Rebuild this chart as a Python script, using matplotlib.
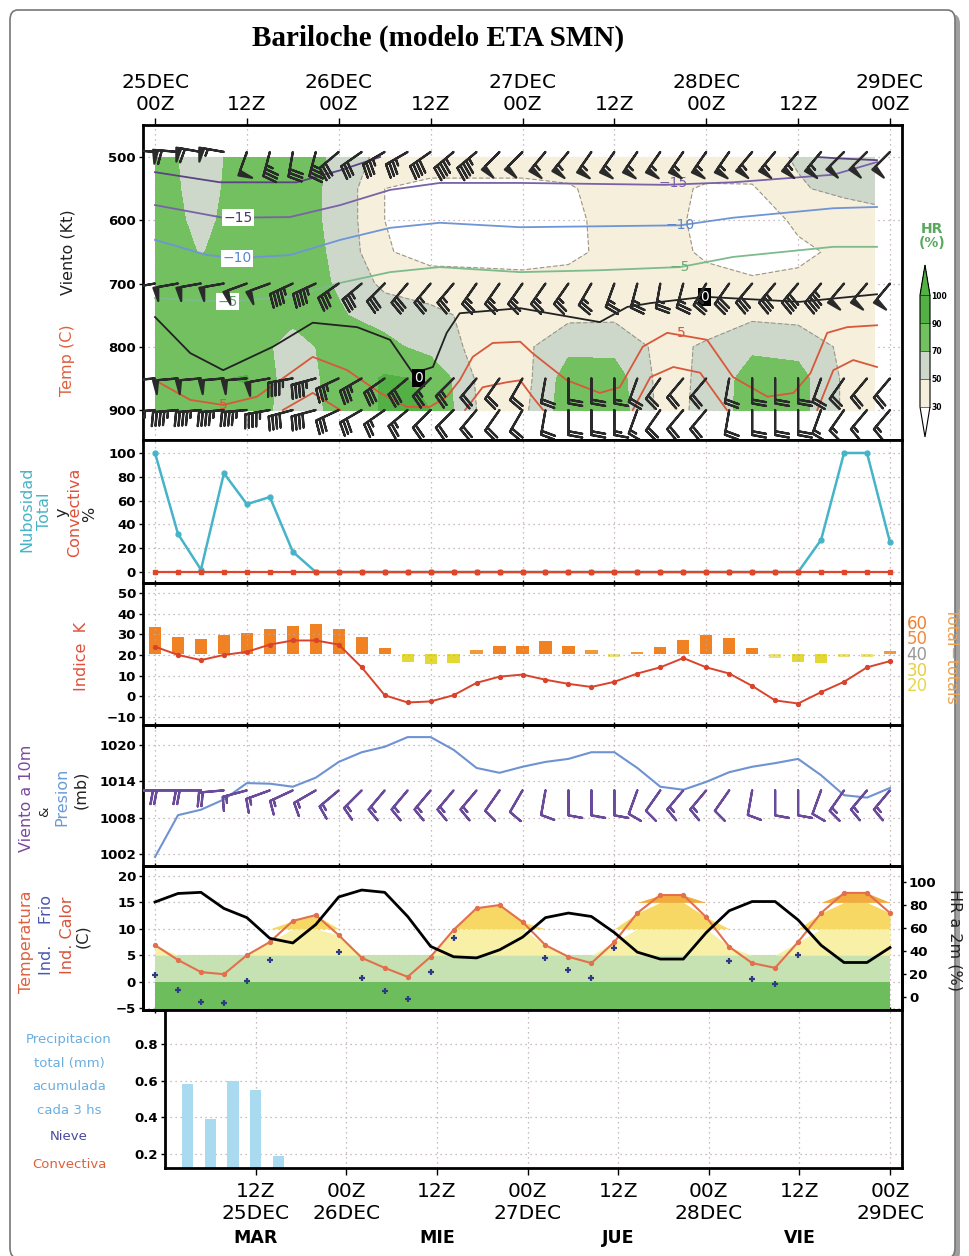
import numpy as np
import matplotlib
import matplotlib.pyplot as plt
from matplotlib.colors import ListedColormap, BoundaryNorm
from matplotlib.patches import FancyBboxPatch

W, H = 970, 1256
plt.rcParams['font.family'] = ['DejaVu Sans']
NARROW = ['Liberation Sans Narrow', 'DejaVu Sans']

# hours from 25DEC 00Z, model output every 3 h
t3 = np.arange(0, 97, 3)

# ---------------- panel 1: upper air (HR shading, isotherms, barbs)
hr_times = [0, 6, 12, 18, 24, 30, 36, 42, 48, 54, 60, 66, 72, 78, 84, 90, 94]
hr_levels = [500, 550, 600, 650, 700, 750, 800, 850, 900]
hr_500 = [80, 60, 80, 80, 66, 42, 40, 40, 40, 40, 42, 42, 40, 42, 52, 60, 62]
hr_550 = [80, 62, 80, 80, 64, 30, 25, 25, 25, 28, 38, 35, 28, 28, 48, 55, 58]
hr_600 = [80, 65, 80, 80, 64, 30, 22, 22, 22, 26, 36, 34, 27, 24, 32, 38, 42]
hr_650 = [80, 69, 80, 80, 66, 32, 22, 22, 22, 26, 35, 35, 28, 24, 28, 32, 36]
hr_700 = [80, 80, 80, 80, 68, 45, 40, 38, 36, 36, 36, 36, 34, 32, 32, 34, 36]
hr_750 = [80, 80, 80, 75, 72, 62, 55, 45, 40, 45, 46, 40, 42, 46, 44, 40, 40]
hr_800 = [80, 80, 80, 62, 78, 76, 62, 45, 45, 65, 64, 45, 52, 66, 63, 46, 45]
hr_850 = [80, 88, 91, 58, 78, 92, 88, 48, 42, 80, 80, 44, 53, 80, 78, 47, 45]
hr_900 = [80, 85, 85, 58, 76, 92, 90, 50, 45, 82, 82, 45, 53, 82, 78, 47, 45]

# isotherms: pressure (hPa) of each temperature line against time
iso_m20_t = [0, 8.5, 18.5, 24.2, 29.4, np.nan, 86.5, 89, 94.3]
iso_m20_p = [524, 540, 540, 521, 500, np.nan, 500, 502, 505]
iso_m15_t = [0, 8.9, 17.6, 24.2, 30.7, 37.2, 47.7, 66.6, 75.5, 88.6, 94.3]
iso_m15_p = [576, 596, 595, 576, 552, 541, 541, 544, 540, 528, 508]
iso_m10_t = [0, 6.8, 10.7, 17.6, 24.2, 30.7, 37.2, 47.7, 68.6, 75.5, 88.6, 94.3]
iso_m10_p = [631, 655, 660, 655, 631, 612, 604, 611, 608, 596, 581, 579]
iso_m5_t = [0, 9.1, 17.6, 24.2, 30.7, 37.2, 47.7, 58.1, 68.6, 75.5, 88.6, 94.3]
iso_m5_p = [723, 729, 721, 699, 682, 674, 682, 679, 674, 658, 642, 642]
iso_0_t = [0, 4.6, 8.9, 15.4, 20.6, 26.4, 30.7, 33.7, 36.3, 38.1, 39.8, 47.7,
           58.1, 61.7, 64.7, 71.8, 84.2, 94.3]
iso_0_p = [753, 810, 837, 800, 762, 769, 789, 842, 832, 778, 747, 739,
           761, 737, 731, 721, 729, 717]
iso_5_t = [0, 4.6, 8.9, 13.3, 17.6, 20.6, 25.1, 29.4, 32.9, 35.9, 38.1, 39.8,
           41.5, 44.1, 47.7, 49.3, 53.8, 58.1, 60.7, 63.7, 66.9, 72.1, 75.5,
           80.0, 83.4, 85.6, 87.8, 90.4, 94.3]
iso_5_p = [853, 884, 892, 879, 842, 816, 837, 873, 895, 895, 879, 853,
           816, 794, 792, 810, 853, 873, 864, 800, 778, 789, 848,
           879, 873, 842, 778, 769, 766]
iso_10_t = [16.7, 20.6, 24.2, np.nan, 40.5, 42.8, 46.0, 47.7, 49.3, 50.7, np.nan,
            62.4, 64.7, 67.7, 71.2, 74.7, np.nan, 86.5, 88.6, 91.2, 94.3]
iso_10_p = [900, 873, 900, np.nan, 900, 864, 856, 853, 879, 900, np.nan,
            900, 848, 832, 841, 900, np.nan, 900, 837, 821, 832]

# winds (direction from, deg / speed, kt) every 3 h
barb_levels = [492, 700, 850, 900]
dir500 = [275, 275, 280, 280, 200, 195, 190, 195, 230, 235, 240, 240, 235, 230, 230, 225,
          225, 220, 220, 215, 215, 215, 215, 215, 215, 215, 220, 220, 220, 220, 225, 225, 225]
spd500 = [55, 60, 60, 55, 50, 35, 30, 35, 30, 30, 35, 35, 40, 45, 45, 50,
          50, 55, 55, 55, 55, 55, 55, 55, 55, 55, 55, 55, 55, 55, 50, 50, 50]
dir700 = [260, 260, 260, 260, 250, 250, 245, 245, 235, 230, 225, 220, 220, 220, 215, 215,
          215, 215, 215, 210, 200, 195, 190, 195, 210, 215, 220, 220, 220, 220, 220, 220, 220]
spd700 = [50, 50, 50, 50, 50, 50, 45, 45, 35, 35, 30, 30, 25, 25, 25, 25,
          25, 25, 25, 25, 25, 25, 25, 25, 25, 30, 30, 35, 40, 45, 50, 50, 50]
dir850 = [265, 265, 265, 265, 265, 260, 260, 255, 245, 240, 235, 230, 225, 225, 220, 215,
          210, 190, 180, 180, 180, 200, 215, 220, 220, 190, 180, 180, 180, 200, 215, 220, 220]
spd850 = [50, 50, 50, 50, 50, 50, 45, 45, 35, 35, 30, 30, 25, 25, 20, 20,
          20, 20, 20, 20, 15, 20, 20, 20, 20, 20, 20, 20, 20, 20, 20, 20, 20]
dir900 = [265, 265, 265, 265, 265, 260, 255, 255, 245, 240, 235, 230, 225, 225, 220, 215,
          210, 190, 180, 180, 180, 200, 215, 220, 220, 190, 180, 180, 180, 200, 215, 220, 220]
spd900 = [45, 45, 45, 45, 45, 45, 40, 40, 30, 30, 25, 25, 20, 20, 20, 20,
          20, 20, 20, 20, 15, 15, 20, 20, 20, 20, 20, 20, 20, 15, 15, 15, 15]

# ---------------- panel 2: cloud cover (%)
nub_total = [100, 32, 2, 83, 57, 63, 17, 0, 0, 0, 0, 0, 0, 0, 0, 0, 0,
             0, 0, 0, 0, 0, 0, 0, 0, 0, 0, 0, 0, 27, 100, 100, 25]
nub_conv = [0, 0, 0, 0, 0, 0, 0, 0, 0, 0, 0, 0, 0, 0, 0, 0, 0,
            0, 0, 0, 0, 0, 0, 0, 0, 0, 0, 0, 0, 0, 0, 0, 0]

# ---------------- panel 3: K index and total-totals
k_index = [24, 20, 17.5, 20, 21.5, 25, 27, 27, 25, 14, 0.5, -3, -2.5, 0.5, 6.5, 9.5, 10.5,
           8, 6, 4.5, 7, 11, 14, 18.5, 14, 11, 5, -2, -3.5, 2, 7, 14, 17]
total_totals = [57, 52, 51, 53, 54, 56, 57.5, 58.5, 56, 52, 47, 40, 39, 39.5, 46, 48, 48,
                50, 48, 46, 42.5, 45, 47.5, 50.5, 53, 51.5, 47, 42, 40, 39.5, 42.5, 42.5, 45.5]
tt_base = 44

# ---------------- panel 4: surface pressure and 10 m wind
presion = [1001.5, 1008.4, 1009.3, 1011, 1013.7, 1013.6, 1013.1, 1014.6, 1017.2, 1018.8,
           1019.7, 1021.3, 1021.3, 1019.2, 1016.2, 1015.4, 1016.4, 1017.2, 1017.7, 1018.8,
           1018.8, 1016.2, 1013.1, 1012.6, 1013.9, 1015.5, 1016.4, 1017, 1017.7, 1015,
           1011.7, 1011.3, 1012.9]
dir10 = [270, 270, 270, 265, 255, 250, 245, 240, 230, 225, 220, 220, 220, 220, 220, 215,
         210, 190, 180, 180, 180, 200, 215, 220, 220, 215, 190, 180, 180, 200, 215, 220, 220]
spd10 = [20, 20, 20, 20, 15, 15, 15, 15, 15, 15, 15, 15, 15, 15, 15, 10,
         10, 10, 10, 10, 10, 10, 10, 15, 15, 10, 10, 10, 10, 10, 15, 15, 15]

# ---------------- panel 5: 2 m temperature, wind chill, 2 m RH
temp2m = [6.9, 4.1, 1.8, 1.4, 5.0, 7.5, 11.5, 12.6, 8.8, 4.5, 2.6, 0.9, 4.7, 9.8, 13.9, 14.5,
          11.3, 6.9, 4.7, 3.5, 7.5, 13.0, 16.4, 16.4, 12.2, 6.6, 3.5, 2.6, 7.5, 13.0, 16.8,
          16.8, 13.0]
ind_frio = [1.3, -1.6, -3.9, -4.1, 0.1, 4.1, np.nan, np.nan, 5.6, 0.7, -1.8, -3.3, 1.8, 8.3,
            np.nan, np.nan, np.nan, 4.5, 2.2, 0.7, 6.4, np.nan, np.nan, np.nan, np.nan, 3.9,
            0.5, -0.5, 5.0, np.nan, np.nan, np.nan, np.nan]
hr2m = [82.6, 90, 91, 77, 69, 51, 47, 63, 87, 93, 91, 70, 44, 35, 34, 41, 52, 69, 73, 70,
        56, 39, 33, 33, 56, 75, 83, 83, 67, 45, 30, 30, 43]

# ---------------- panel 6: precipitation (mm / 3 h)
pp_t = [3, 6, 9, 12, 15]
pp_total = [0.58, 0.39, 0.60, 0.55, 0.19]

top_labels = ['25DEC\n00Z', '12Z', '26DEC\n00Z', '12Z', '27DEC\n00Z', '12Z',
              '28DEC\n00Z', '12Z', '29DEC\n00Z']
bot_labels = ['12Z\n25DEC', '00Z\n26DEC', '12Z', '00Z\n27DEC', '12Z',
              '00Z\n28DEC', '12Z', '00Z\n29DEC']
dias = ['MAR', 'MIE', 'JUE', 'VIE']
dias_t = [12, 36, 60, 84]

BARB_LEN = 6.0
BARB_SIZES = dict(height=0.55, width=0.2, spacing=0.15, emptybarb=0.0)


def box(x0, y0, x1, y1):
    return [x0 / W, 1 - y1 / H, (x1 - x0) / W, (y1 - y0) / H]


def ftext(x, y, s, **kw):
    kw.setdefault('ha', 'center')
    kw.setdefault('va', 'center')
    fig.text(x / W, 1 - y / H, s, **kw)


def uv(dirs, spds):
    d = np.deg2rad(np.asarray(dirs, float))
    s = np.asarray(spds, float)
    return -s * np.sin(d), -s * np.cos(d)


def style(ax, yticks, xlim=(-1.57, 97.57)):
    ax.set_xlim(*xlim)
    ax.set_xticks(range(0, 97, 12))
    ax.set_yticks(yticks)
    for s in ax.spines.values():
        s.set_linewidth(2)
    ax.tick_params(axis='y', direction='out', length=3, width=1, labelsize=9.5, pad=2)
    ax.tick_params(axis='x', direction='inout', length=5, width=1, labelbottom=False)
    ax.grid(True, ls=(0, (1, 3)), color='#b9a8a8', lw=0.9)
    ax.set_axisbelow(True)
    plt.setp(ax.get_yticklabels(), fontweight='bold')


fig = plt.figure(figsize=(W / 100, H / 100), dpi=100)
fig.patches.append(FancyBboxPatch((15 / W, 1 - 1262 / H), 945 / W, 1248 / H,
                                  boxstyle='round,pad=0,rounding_size=0.008',
                                  transform=fig.transFigure, fc='#a0a0a0', ec='none', zorder=-3))
fig.patches.append(FancyBboxPatch((10 / W, 1 - 1258 / H), 945 / W, 1248 / H,
                                  boxstyle='round,pad=0,rounding_size=0.008',
                                  transform=fig.transFigure, fc='white', ec='#777777',
                                  lw=1.2, zorder=-2))

ftext(438, 38, 'Bariloche (modelo ETA SMN)', fontsize=21, fontweight='bold',
      family=['Liberation Serif', 'DejaVu Serif'])

# ---------------- panel 1
ax1 = fig.add_axes(box(143, 125, 902, 440))
hr_grid = np.array([hr_500, hr_550, hr_600, hr_650, hr_700, hr_750, hr_800, hr_850, hr_900])
cmap = ListedColormap(['#f5efdc', '#cdd8cb', '#72c05f', '#52b044'])
cmap.set_under('white')
cmap.set_over('#52b044')
hr_bounds = [30, 50, 70, 90, 100]
norm = BoundaryNorm(hr_bounds, cmap.N)
ax1.contourf(hr_times, hr_levels, hr_grid, levels=hr_bounds, cmap=cmap, norm=norm, zorder=1)
ax1.contour(hr_times, hr_levels, hr_grid, levels=[30, 50], colors='#9c958a',
            linestyles=[(0, (4, 2))], linewidths=0.8, zorder=2)

isos = [(iso_m20_t, iso_m20_p, '#5b4580'), (iso_m15_t, iso_m15_p, '#7a62a6'),
        (iso_m10_t, iso_m10_p, '#6f95d6'), (iso_m5_t, iso_m5_p, '#7dbb8c'),
        (iso_0_t, iso_0_p, '#222222'), (iso_5_t, iso_5_p, '#d8583a'),
        (iso_10_t, iso_10_p, '#d8583a')]
for tt, pp, c in isos:
    ax1.plot(tt, pp, color=c, lw=1.3, zorder=3)

lab_kw = dict(ha='center', va='center', fontsize=10, zorder=4)
wbox = dict(boxstyle='square,pad=0.1', fc='white', ec='none')
ax1.text(10.8, 596, '\u221215', color='#4a3a6a', bbox=wbox, **lab_kw)
ax1.text(10.7, 660, '\u221210', color='#5a86cc', bbox=wbox, **lab_kw)
ax1.text(9.5, 729, '\u22125', color='#5aa06a', bbox=wbox, **lab_kw)
ax1.text(8.9, 892, '5', color='#d8583a', **lab_kw)
ax1.text(67.7, 541, '\u221215', color='#7a62a6', **lab_kw)
ax1.text(68.6, 608, '\u221210', color='#5a86cc', **lab_kw)
ax1.text(68.6, 674, '\u22125', color='#6aad7a', **lab_kw)
ax1.text(68.8, 778, '5', color='#d8583a', **lab_kw)
kbox = dict(boxstyle='square,pad=0.15', fc='black', ec='none')
ax1.text(34.4, 849, '0', color='white', bbox=kbox, **lab_kw)
ax1.text(71.8, 721, '0', color='white', bbox=kbox, **lab_kw)

for lev, d, s in zip(barb_levels, [dir500, dir700, dir850, dir900],
                     [spd500, spd700, spd850, spd900]):
    u, v = uv(d, s)
    ax1.barbs(t3, np.full(len(t3), lev), u, v, length=BARB_LEN, flip_barb=True,
              sizes=BARB_SIZES, color='#2a2a2a', lw=1.6, zorder=5)

style(ax1, [500, 600, 700, 800, 900])
ax1.set_ylim(947.4, 449.4)
ax1.tick_params(axis='x', top=True, labeltop=True, bottom=False, direction='out',
                length=5, pad=3)
ax1.set_xticklabels(top_labels, fontsize=14.5, family=NARROW, linespacing=1.2)

cax = fig.add_axes(box(920, 265, 930, 437))
sm = matplotlib.cm.ScalarMappable(norm=norm, cmap=cmap)
cb = fig.colorbar(sm, cax=cax, extend='both', extendfrac=0.27, ticks=hr_bounds,
                  drawedges=True)
cb.ax.tick_params(length=0, labelsize=5.5, pad=1)
plt.setp(cb.ax.get_yticklabels(), fontweight='bold')
ftext(932, 236, 'HR\n(%)', fontsize=10, color='#5aa860', fontweight='bold', linespacing=1.0)

# ---------------- panel 2
ax2 = fig.add_axes(box(143, 440, 902, 583))
ax2.plot(t3, nub_total, color='#45b4c8', lw=1.8, marker='o', ms=3.5, zorder=3)
ax2.plot(t3, nub_conv, color='#e0462a', lw=1.6, marker='s', ms=3.5, zorder=4)
style(ax2, range(0, 101, 20))
ax2.set_ylim(-9.2, 110.9)

# ---------------- panel 3
ax3 = fig.add_axes(box(143, 583, 902, 725))
axT = ax3.twinx()
tt = np.asarray(total_totals)
tt_col = np.where(tt >= 47, '#f08224', np.where(tt >= 44, '#f19a3a',
                  np.where(tt >= 41, '#ebe27a', '#e3d834')))
axT.bar(t3, tt - tt_base, bottom=tt_base, width=1.6, color=tt_col, zorder=2)
axT.set_ylim(-13.9 + 23.5, 54.8 + 23.5)
axT.set_axis_off()
ax3.set_zorder(axT.get_zorder() + 1)
ax3.patch.set_visible(False)
ax3.plot(t3, k_index, color='#d9432c', lw=1.4, marker='o', ms=2.8, zorder=4)
style(ax3, range(-10, 51, 10))
ax3.set_ylim(-13.9, 54.8)
tt_marks = ['60', '50', '40', '30', '20']
tt_mark_col = ['#f07f30', '#f08a40', '#9a9a9a', '#e6cf3e', '#e6d84a']
for i, (lab, c) in enumerate(zip(tt_marks, tt_mark_col)):
    ftext(917, 624 + 15.5 * i, lab, color=c, fontsize=12, family=NARROW)
ftext(952, 656, 'Total\u2212totals', rotation=-90, color='#f0a050', fontsize=11.5)

# ---------------- panel 4
ax4 = fig.add_axes(box(143, 725, 902, 866))
ax4.plot(t3, presion, color='#6e92d2', lw=1.5, zorder=3)
u10, v10 = uv(dir10, spd10)
ax4.barbs(t3, np.full(len(t3), 1012.5), u10, v10, length=BARB_LEN, flip_barb=True,
          sizes=BARB_SIZES, color='#6a4a9a', lw=1.6, zorder=4)
style(ax4, [1002, 1008, 1014, 1020])
ax4.set_ylim(1000, 1023.3)

# ---------------- panel 5
ax5 = fig.add_axes(box(143, 866, 902, 1010))
temp = np.asarray(temp2m)
ax5.fill_between(t3, -6, 0, color='#6dbd5c', lw=0, zorder=1)
ax5.fill_between(t3, 0, 5, color='#c6e2b2', lw=0, zorder=1)
for lo, hi, c in [(5, 10, '#f7f0a6'), (10, 15, '#f8d864'), (15, 25, '#f2ac3e')]:
    ax5.fill_between(t3, lo, np.clip(temp, lo, hi), color=c, lw=0, zorder=1)
ax5.plot(t3, temp, color='#e2704c', lw=1.5, marker='o', ms=2.8, zorder=4)
ax5.plot(t3, ind_frio, ls='none', marker='+', ms=5, mew=1.6, color='#2f3a85', zorder=4)
style(ax5, range(-5, 21, 5))
ax5.set_ylim(-5.38, 21.9)
axR = ax5.twinx()
axR.plot(t3, hr2m, color='black', lw=2, zorder=5)
axR.set_ylim(-11.3, 113.9)
axR.set_yticks(range(0, 101, 20))
axR.tick_params(axis='y', direction='out', length=3, width=1, labelsize=9.5, pad=2)
plt.setp(axR.get_yticklabels(), fontweight='bold')
for s in axR.spines.values():
    s.set_linewidth(2)

# ---------------- panel 6
ax6 = fig.add_axes(box(165, 1010, 902, 1168))
ax6.bar(pp_t, pp_total, width=1.5, color='#a9daef', zorder=2)
style(ax6, [0.2, 0.4, 0.6, 0.8], xlim=(1.31, 97.57))
ax6.set_ylim(0.123, 0.986)
ax6.set_xticks(range(12, 97, 12))
ax6.tick_params(axis='x', direction='out', length=5, labelbottom=True, pad=5)
ax6.set_xticklabels(bot_labels, fontsize=14.5, family=NARROW, linespacing=1.2)
for d, t in zip(dias, dias_t):
    ax6.text(t, -0.443, d, transform=ax6.get_xaxis_transform(), ha='center',
             va='center', fontsize=12.5, fontweight='bold')

# ---------------- side labels
side = dict(rotation=90, fontsize=11.5)
ftext(68, 252, 'Viento (Kt)', color='#222222', **side)
ftext(68, 360, 'Temp (C)', color='#e0603c', **side)
ftext(27, 509, 'Nubosidad', color='#48b4c8', **side)
ftext(45, 511, 'Total', color='#48b4c8', **side)
ftext(62, 512, 'y', color='#222222', **side)
ftext(75, 512, 'Convectiva', color='#e0503a', **side)
ftext(90, 514, '%', color='#222222', **side)
ftext(82, 656, 'Indice  K', color='#e0503a', **side)
ftext(27, 798, 'Viento a 10m', color='#7a4aa0', **side)
ftext(45, 812, '&', color='#222222', rotation=90, fontsize=9.5)
ftext(62, 797, 'Presion', color='#6a9ad6', **side)
ftext(81, 790, '(mb)', color='#222222', **side)
ftext(27, 942, 'Temperatura', color='#e0603c', **side)
ftext(47, 935, 'Ind.    Frio', color='#4a56b0', **side)
ftext(68, 935, 'Ind. Calor', color='#d9533a', **side)
ftext(83, 936, '(C)', color='#222222', **side)
ftext(955, 940, 'HR a 2m (%)', rotation=-90, fontsize=11.5, color='#222222')

pp_lab = [('Precipitacion', '#6aaee0', 1040), ('total (mm)', '#6aaee0', 1063),
          ('acumulada', '#6aaee0', 1086), ('cada 3 hs', '#6aaee0', 1110),
          ('Nieve', '#4a4a9a', 1137), ('Convectiva', '#e0603a', 1165)]
for s, c, y in pp_lab:
    ftext(69, y, s, color=c, fontsize=9.5)

fig.savefig('out.png', dpi=100)
